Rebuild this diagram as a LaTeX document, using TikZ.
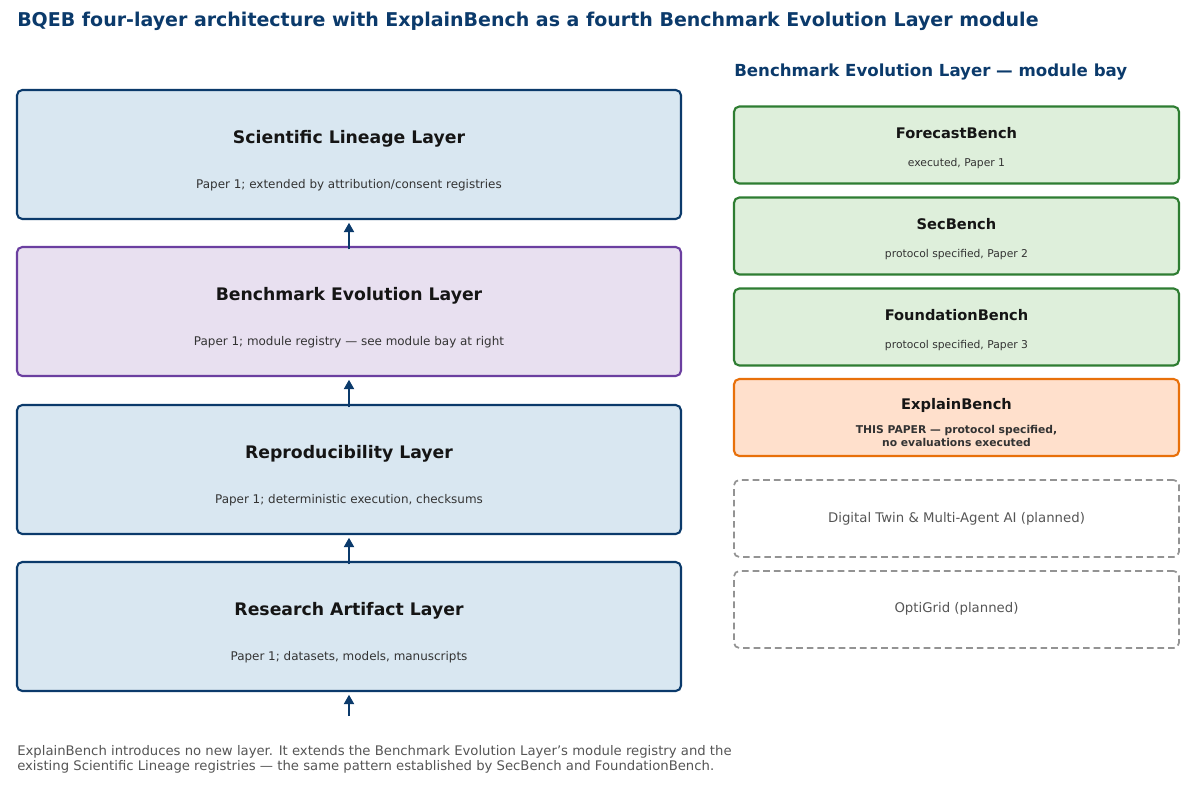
\documentclass[tikz,border=0pt]{standalone}
\usepackage{fontspec}
\setmainfont{DejaVu Sans}
\usetikzlibrary{arrows.meta}
\definecolor{navy}{HTML}{0B3A6B}
\definecolor{layerfill}{HTML}{D9E7F1}
\definecolor{evofill}{HTML}{E8E0F0}
\definecolor{evoline}{HTML}{6B3FA0}
\definecolor{modfill}{HTML}{DEEFDB}
\definecolor{modline}{HTML}{2E7D32}
\definecolor{newfill}{HTML}{FFE0CC}
\definecolor{newline}{HTML}{E8700A}
\definecolor{inkdark}{HTML}{151515}
\definecolor{inkmid}{HTML}{333333}
\definecolor{inkgray}{HTML}{555555}
\tikzset{
  layerbox/.style={draw=navy, fill=layerfill, line width=1.6pt, rounded corners=4pt,
    minimum width=664*0.75bp, minimum height=129*0.75bp, inner sep=0pt},
  modbox/.style={draw=modline, fill=modfill, line width=1.6pt, rounded corners=4pt,
    minimum width=445*0.75bp, minimum height=77*0.75bp, inner sep=0pt},
  plannedbox/.style={draw=gray!85, dashed, dash pattern=on 5pt off 3pt, line width=1.3pt,
    rounded corners=4pt, minimum width=445*0.75bp, minimum height=77*0.75bp, inner sep=0pt},
  layertitle/.style={font=\fontsize{13}{15}\selectfont\bfseries, text=inkdark},
  layersub/.style={font=\fontsize{9}{11}\selectfont, text=inkmid},
  modtitle/.style={font=\fontsize{11}{13}\selectfont\bfseries, text=inkdark},
  modsub/.style={font=\fontsize{8.1}{9.2}\selectfont, text=inkmid},
  upflow/.style={-{Triangle[length=7bp,width=7.5bp]}, draw=navy, line width=1.4pt}
}
\begin{document}
\begin{tikzpicture}[x=0.75bp,y=-0.75bp]
\useasboundingbox (0,0) rectangle (1194,785);
% heading
\node[anchor=west, inner sep=0pt, font=\fontsize{14.3}{16}\selectfont\bfseries, text=navy] (title) at (17,21)
  {BQEB four-layer architecture with ExplainBench as a fourth Benchmark Evolution Layer module};
% four layers
\node[layerbox] (lineage) at (349,154.5) {};
\node[layerbox, draw=evoline, fill=evofill] (evolution) at (349,311.5) {};
\node[layerbox] (repro) at (349,469.5) {};
\node[layerbox] (artifact) at (349,626.5) {};
\node[layertitle] (lineageT) at (349,139) {Scientific Lineage Layer};
\node[layersub] (lineageS) at (349,185) {Paper 1; extended by attribution/consent registries};
\node[layertitle] (evolutionT) at (349,296) {Benchmark Evolution Layer};
\node[layersub] (evolutionS) at (349,342) {Paper 1; module registry — see module bay at right};
\node[layertitle] (reproT) at (349,454) {Reproducibility Layer};
\node[layersub] (reproS) at (349,500) {Paper 1; deterministic execution, checksums};
\node[layertitle] (artifactT) at (349,611) {Research Artifact Layer};
\node[layersub] (artifactS) at (349,657) {Paper 1; datasets, models, manuscripts};
\coordinate (base) at (349,716);
\draw[upflow] ([yshift=-2.5bp]evolution.north) -- ([yshift=-2bp]lineage.south);
\draw[upflow] ([yshift=-2.5bp]repro.north) -- ([yshift=-2bp]evolution.south);
\draw[upflow] ([yshift=-2.5bp]artifact.north) -- ([yshift=-2bp]repro.south);
\draw[upflow] (base) -- ([yshift=-2bp]artifact.south);
% module bay
\node[anchor=west, inner sep=0pt, font=\fontsize{12.5}{14}\selectfont\bfseries, text=navy] (bay) at (734,72)
  {Benchmark Evolution Layer — module bay};
\node[modbox] (forecast) at (956.5,145) {};
\node[modbox] (sec) at (956.5,236) {};
\node[modbox] (foundation) at (956.5,327) {};
\node[modbox, draw=newline, fill=newfill] (explain) at (956.5,417.5) {};
\node[plannedbox] (twin) at (956.5,518.5) {};
\node[plannedbox] (optigrid) at (956.5,609.5) {};
\node[modtitle] (forecastT) at (956.5,133.5) {ForecastBench};
\node[modsub] (forecastS) at (956.5,163.5) {executed, Paper 1};
\node[modtitle] (secT) at (956.5,224.5) {SecBench};
\node[modsub] (secS) at (956.5,254.5) {protocol specified, Paper 2};
\node[modtitle] (foundationT) at (956.5,315.5) {FoundationBench};
\node[modsub] (foundationS) at (956.5,345.5) {protocol specified, Paper 3};
\node[modtitle] (explainT) at (956.5,405.5) {ExplainBench};
\node[modsub, font=\fontsize{8.1}{9.2}\selectfont\bfseries, align=center] (explainS) at (956.5,436)
  {THIS PAPER — protocol specified,\\no evaluations executed};
\node[font=\fontsize{10}{12}\selectfont, text=inkgray] (twinT) at (956.5,519) {Digital Twin \& Multi-Agent AI (planned)};
\node[font=\fontsize{10}{12}\selectfont, text=inkgray] (optigridT) at (956.5,609) {OptiGrid (planned)};
% note
\node[anchor=north west, align=left, inner sep=0pt, font=\fontsize{9.95}{11.3}\selectfont, text=inkgray] (note) at (17,745)
  {ExplainBench introduces no new layer. It extends the Benchmark Evolution Layer's module registry and the\\
   existing Scientific Lineage registries — the same pattern established by SecBench and FoundationBench.};
\end{tikzpicture}
\end{document}
